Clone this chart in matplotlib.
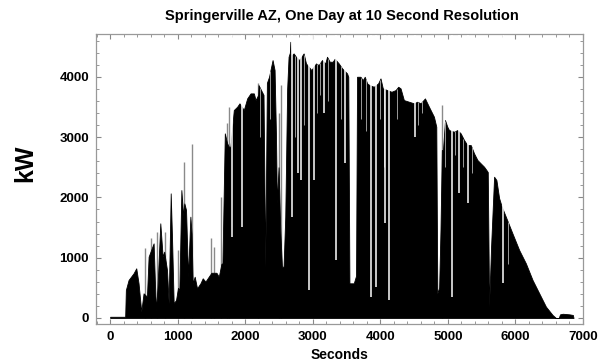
import matplotlib
matplotlib.use("Agg")
import matplotlib.pyplot as plt
from matplotlib.ticker import MultipleLocator
import numpy as np

plt.rcParams['font.family'] = ['Liberation Sans', 'DejaVu Sans']

# silhouette of the output (seconds, kW)
env_s = [0, 222, 232, 272, 346, 386, 420, 460, 494, 544, 569, 643, 662, 678, 700,
         742, 777, 800, 841, 866, 896, 915, 940, 975, 1004, 1024, 1054, 1080, 1098,
         1123, 1153, 1187, 1205, 1222, 1251, 1286, 1336, 1370, 1410, 1459, 1499,
         1573, 1608, 1647, 1662, 1697, 1731, 1756, 1781, 1830, 1880, 1914, 1978,
         2028, 2078, 2127, 2152, 2191, 2196, 2270, 2296, 2320, 2352, 2404, 2434,
         2455, 2468, 2493, 2518, 2543, 2567, 2592, 2620, 2641, 2660, 2667, 2675,
         2716, 2750, 2800, 2864, 2899, 2978, 3047, 3087, 3136, 3185, 3210, 3250,
         3294, 3324, 3384, 3433, 3507, 3525, 3542, 3606, 3640, 3655, 3705, 3740,
         3769, 3804, 3839, 3903, 3967, 4002, 4036, 4100, 4165, 4225, 4264, 4299,
         4348, 4422, 4497, 4546, 4596, 4660, 4719, 4793, 4828, 4843, 4870, 4890,
         4910, 4927, 4957, 4991, 5016, 5090, 5139, 5189, 5239, 5288, 5338, 5387,
         5437, 5486, 5535, 5570, 5590, 5610, 5639, 5684, 5718, 5758, 5797, 5857,
         5955, 6055, 6154, 6253, 6352, 6451, 6549, 6599, 6640, 6660, 6700, 6800,
         6850, 6860]
env_kw = [20, 20, 464, 630, 741, 824, 575, 105, 409, 354, 1017, 1238, 600, 130, 500,
          1570, 1017, 1100, 796, 243, 2067, 1348, 243, 298, 500, 464, 2122, 1700, 1900,
          1791, 685, 1680, 1400, 575, 685, 492, 575, 658, 603, 685, 750,
          750, 685, 900, 906, 3062, 2900, 2841, 2841, 3449, 3504, 3560, 3449,
          3642, 3725, 3725, 3615, 3700, 3863, 3700, 851, 3900, 4001, 4278, 4112,
          3000, 1901, 2500, 1459, 851, 851, 1680, 3800, 4333, 4400, 4581, 4350,
          4388, 4333, 4278, 4388, 4222, 4112, 4222, 4195, 4278, 4222, 4333, 4250,
          4250, 4300, 4222, 4140, 4056, 4000, 575, 575, 700, 4001, 4001, 3946,
          4001, 3891, 3863, 3835, 3891, 3974, 3808, 3780, 3752, 3780, 3835, 3808,
          3614, 3587, 3560, 3587, 3560, 3642, 3504, 3338, 3172, 409, 500, 1459,
          2785, 2785, 3283, 3172, 3117, 3089, 3117, 3062, 2951, 2868, 2868, 2730,
          2620, 2564, 2509, 2454, 2420, 188, 1183, 2343, 2288, 1989, 1846, 1680,
          1404, 1127, 906, 630, 409, 188, 50, 0, 0, 60, 70, 60,
          50, 0]

# narrow cloud dips (seconds, kW at the bottom of the gap)
dip_s = [1806, 1954, 2691, 2780, 2830, 2938, 3013, 3161, 3344, 3473, 3868, 3937,
         4076, 4126, 4507, 5056, 5164, 5303, 5822]
dip_kw = [1348, 1514, 1680, 2398, 2288, 464, 2288, 3393, 962, 2564, 354, 520,
          1570, 298, 3006, 354, 2067, 1901, 575]

# fainter, thinner dips
faint_s = [2221, 2370, 2738, 2870, 3060, 3110, 3230, 3413, 3720, 3780, 3990,
           4050, 4240, 4560, 4620, 4960, 5110, 5230, 5350, 5890]
faint_kw = [3000, 3300, 3000, 3200, 3400, 3700, 3600, 3300, 3300, 3100, 3300,
            2500, 3300, 3200, 3400, 2500, 2700, 2500, 2400, 900]

# thin spikes above the silhouette (seconds, kW)
spike_s = [519, 608, 693, 816, 1004, 1098, 1212, 1499, 1533, 1647, 1731, 1756,
           2191, 2493, 2530, 4907]
spike_kw = [1155, 1321, 1431, 1431, 1127, 2592, 2885, 1321, 1183, 2012, 3227, 3504,
            3891, 3393, 3863, 3532]

xticks = [0, 1000, 2000, 3000, 4000, 5000, 6000, 7000]
yticks = [0, 1000, 2000, 3000, 4000]

fig = plt.figure(figsize=(6.02, 3.62), dpi=100)
ax = fig.add_axes([96/602, 1-324/362, (583-96)/602, (324-34)/362])

ax.vlines(spike_s, 0, spike_kw, color='#8a8a8a', lw=1.0, zorder=1)
ax.fill_between(env_s, 0, env_kw, color='black', lw=0.6, edgecolor='black', zorder=2)
faint_top = np.interp(faint_s, env_s, env_kw)
ax.vlines(faint_s, faint_kw, faint_top, color='#9a9a9a', lw=0.7, zorder=3)
ax.vlines(dip_s, dip_kw, 4700, color='white', lw=1.1, zorder=3)

ax.set_xlim(-210, 7000)
ax.set_ylim(-100, 4710)
ax.set_xticks(xticks)
ax.set_yticks(yticks)
ax.xaxis.set_minor_locator(MultipleLocator(200))
ax.yaxis.set_minor_locator(MultipleLocator(200))
ax.tick_params(which='both', direction='in', top=True, right=True, color='#888888')
ax.tick_params(which='major', length=3.5, width=0.8, labelsize=9.5, pad=5)
ax.tick_params(which='minor', length=2, width=0.6)
for lab in ax.get_xticklabels() + ax.get_yticklabels():
    lab.set_fontweight('bold')
for sp in ax.spines.values():
    sp.set_color('#999999')
    sp.set_linewidth(0.9)

fig.text(342/602, 1-16/362, 'Springerville AZ, One Day at 10 Second Resolution',
         ha='center', va='center', fontsize=10.5, fontweight='bold')
fig.text(340/602, 1-355/362, 'Seconds', ha='center', va='center',
         fontsize=10, fontweight='bold')
fig.text(25/602, 1-163/362, 'kW', ha='center', va='center', rotation=90,
         fontsize=18, fontweight='bold')

fig.savefig('out.png', dpi=100)
